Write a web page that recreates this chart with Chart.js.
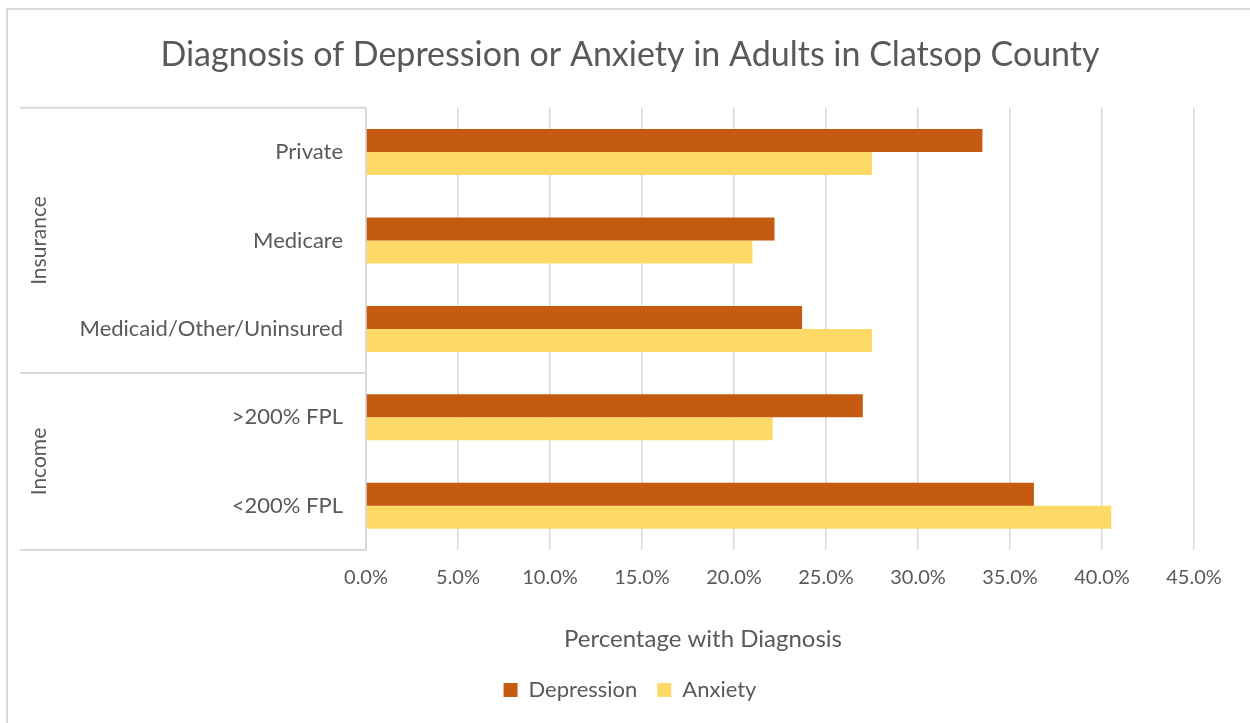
<!DOCTYPE html>
<html>
<head>
<meta charset="utf-8">
<script src="https://cdn.jsdelivr.net/npm/chart.js@4.4.1/dist/chart.umd.min.js"></script>
<style>
    html, body { margin: 0; padding: 0; background: #fff; overflow: hidden; }
    #frame {
        position: absolute; left: 6px; top: 8px; width: 1400px; height: 900px;
        border-left: 2px solid #d9d9d9; border-top: 2px solid #d9d9d9;
    }
    #wrap { position: absolute; left: 0; top: 0; width: 1250px; height: 723px; }
</style>
</head>
<body>
<div id="frame"></div>
<div id="wrap"><canvas id="chart"></canvas></div>
<script>
// data (percent)
const categories = ['Private', 'Medicare', 'Medicaid/Other/Uninsured', '>200% FPL', '<200% FPL'];
const depression = [33.5, 22.2, 23.7, 27.0, 36.3];
const anxiety = [27.5, 21.0, 27.5, 22.1, 40.5];
const groupNames = ['Insurance', 'Income'];
const groupSizes = [3, 2];
const axisTitle = 'Percentage with Diagnosis';

const textColor = '#595959';
const lineColor = '#d9d9d9';
const fontName = 'Lato';


// draws the outer category level (Insurance / Income) like excel does
// + the x axis title, which excel puts left of the plot centre
const groupAxis = {
    id: 'groupAxis',
    afterDraw(chart) {
        const ctx = chart.ctx;
        const y = chart.scales.y;
        const x = chart.scales.x;
        const band = (y.bottom - y.top) / categories.length;
        const x0 = 20;
        const x1 = chart.chartArea.left;

        ctx.save();
        ctx.strokeStyle = lineColor;
        ctx.lineWidth = 2;
        ctx.fillStyle = textColor;
        ctx.font = '21px ' + fontName;
        ctx.textAlign = 'center';
        ctx.textBaseline = 'middle';

        let start = 0;
        let top = y.top;
        ctx.beginPath();
        ctx.moveTo(x0, top);
        ctx.lineTo(x1, top);
        ctx.stroke();

        groupNames.forEach((name, i) => {
            let end = start + groupSizes[i];
            let bottom = y.top + end * band;

            ctx.beginPath();
            ctx.moveTo(x0, bottom);
            ctx.lineTo(x1, bottom);
            ctx.stroke();

            ctx.save();
            ctx.translate(39, (top + bottom) / 2);
            ctx.rotate(-Math.PI / 2);
            ctx.fillText(name, 0, 0);
            ctx.restore();

            start = end;
            top = bottom;
        });

        // axis title
        ctx.font = '24px ' + fontName;
        ctx.fillText(axisTitle, (x.left + x.right) / 2 - 77, x.top + 89);
        ctx.restore();
    }
};


const ctx = document.getElementById('chart');

new Chart(ctx, {
    type: 'bar',
    data: {
        labels: categories,
        datasets: [{
            label: 'Depression',
            data: depression,
            backgroundColor: '#C55A11',
            categoryPercentage: 0.52,
            barPercentage: 1
        }, {
            label: 'Anxiety',
            data: anxiety,
            backgroundColor: '#FFD966',
            categoryPercentage: 0.52,
            barPercentage: 1
        }]
    },
    plugins: [groupAxis],
    options: {
        indexAxis: 'y',
        responsive: true,
        maintainAspectRatio: false,
        animation: false,
        layout: {
            padding: { left: 66, right: 56, top: 0, bottom: 12 }
        },
        scales: {
            x: {
                min: 0,
                max: 45,
                ticks: {
                    stepSize: 5,
                    color: textColor,
                    font: { family: fontName, size: 20 },
                    padding: 16,
                    callback: (v) => v.toFixed(1) + '%'
                },
                grid: {
                    color: lineColor,
                    lineWidth: 1.5,
                    drawTicks: false
                },
                border: { display: false },
                afterFit: (s) => { s.height = 109; }
            },
            y: {
                ticks: {
                    color: textColor,
                    font: { family: fontName, size: 22 },
                    padding: 23
                },
                grid: { display: false, drawTicks: false },
                border: { display: true, color: lineColor, width: 2 },
                afterFit: (s) => { s.width = 300; }
            }
        },
        plugins: {
            title: {
                display: true,
                text: 'Diagnosis of Depression or Anxiety in Adults in Clatsop County',
                color: textColor,
                font: { family: fontName, size: 34, weight: 'normal', lineHeight: 1.2 },
                padding: { top: 35, bottom: 32 }
            },
            legend: {
                position: 'bottom',
                labels: {
                    color: textColor,
                    font: { family: fontName, size: 22 },
                    boxWidth: 14,
                    boxHeight: 14,
                    padding: 20
                }
            },
            tooltip: { enabled: false }
        }
    }
});
</script>
</body>
</html>
